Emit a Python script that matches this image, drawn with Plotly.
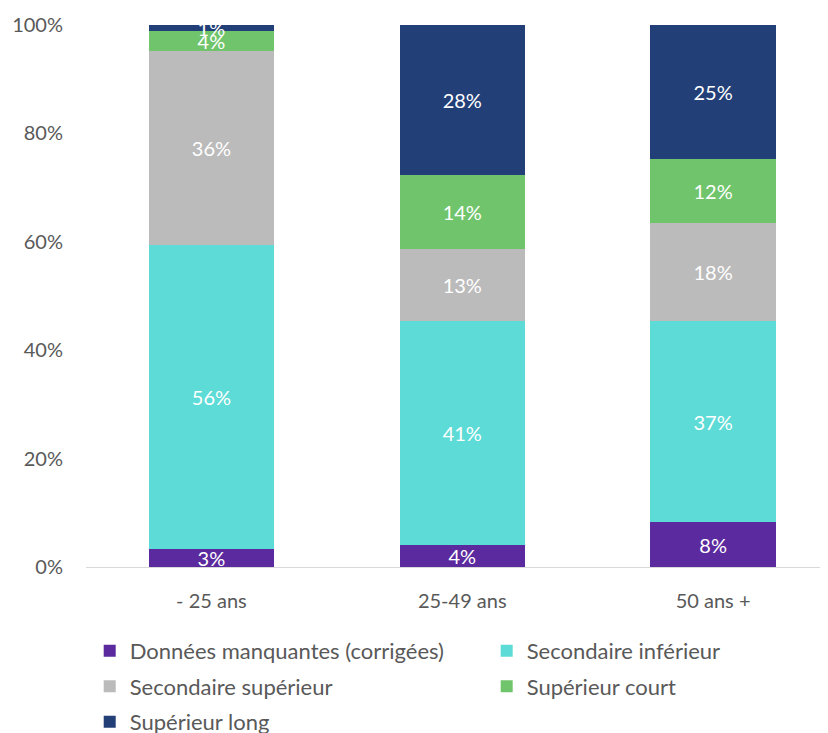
import plotly.graph_objects as go

categories = ["- 25 ans", "25-49 ans", "50 ans +"]
series_names = ["Données manquantes (corrigées)", "Secondaire inférieur",
                "Secondaire supérieur", "Supérieur court", "Supérieur long"]
donnees_manquantes = [0.034, 0.040, 0.083]
secondaire_inferieur = [0.560, 0.413, 0.370]
secondaire_superieur = [0.358, 0.134, 0.182]
superieur_court = [0.037, 0.137, 0.118]
superieur_long = [0.011, 0.276, 0.247]
colors = ["#5B2A9E", "#5DDBD6", "#BBBBBB", "#70C46B", "#233F78"]
legend_ids = ["legend", "legend2", "legend", "legend2", "legend"]

values = [donnees_manquantes, secondaire_inferieur, secondaire_superieur,
          superieur_court, superieur_long]

fig = go.Figure()
for name, vals, col, lg in zip(series_names, values, colors, legend_ids):
    fig.add_trace(go.Bar(
        x=categories, y=vals, name=name,
        marker=dict(color=col, line=dict(width=0)),
        width=0.5,
        texttemplate="%{y:.0%}",
        textposition="inside",
        insidetextanchor="middle",
        constraintext="none",
        textfont=dict(color="white", size=20, family="Lato"),
        cliponaxis=False,
        legend=lg,
        legendgroup=name,
    ))

legend_common = dict(orientation="v", xanchor="left", yanchor="top",
                     font=dict(size=22, color="#595959"),
                     traceorder="grouped", itemwidth=30, tracegroupgap=4,
                     bgcolor="rgba(0,0,0,0)")

fig.update_layout(
    barmode="stack",
    width=820, height=725,
    margin=dict(l=78, r=0, t=17, b=166, autoexpand=False),
    paper_bgcolor="white", plot_bgcolor="white",
    font=dict(family="Lato", size=20, color="#595959"),
    xaxis=dict(range=[-0.5, 2.458], showgrid=False, showline=True,
               linecolor="#D9D9D9", linewidth=1, ticks="",
               ticklabelstandoff=16,
               tickfont=dict(size=20, color="#595959")),
    yaxis=dict(range=[0, 1], tickformat=".0%", dtick=0.2, showgrid=False,
               showline=False, zeroline=False, ticks="",
               ticklabelstandoff=22,
               tickfont=dict(size=20, color="#595959")),
    legend=dict(x=0.005, y=-0.116, **legend_common),
    legend2=dict(x=0.540, y=-0.116, **legend_common),
    showlegend=True,
)

fig.write_html("out.html")
